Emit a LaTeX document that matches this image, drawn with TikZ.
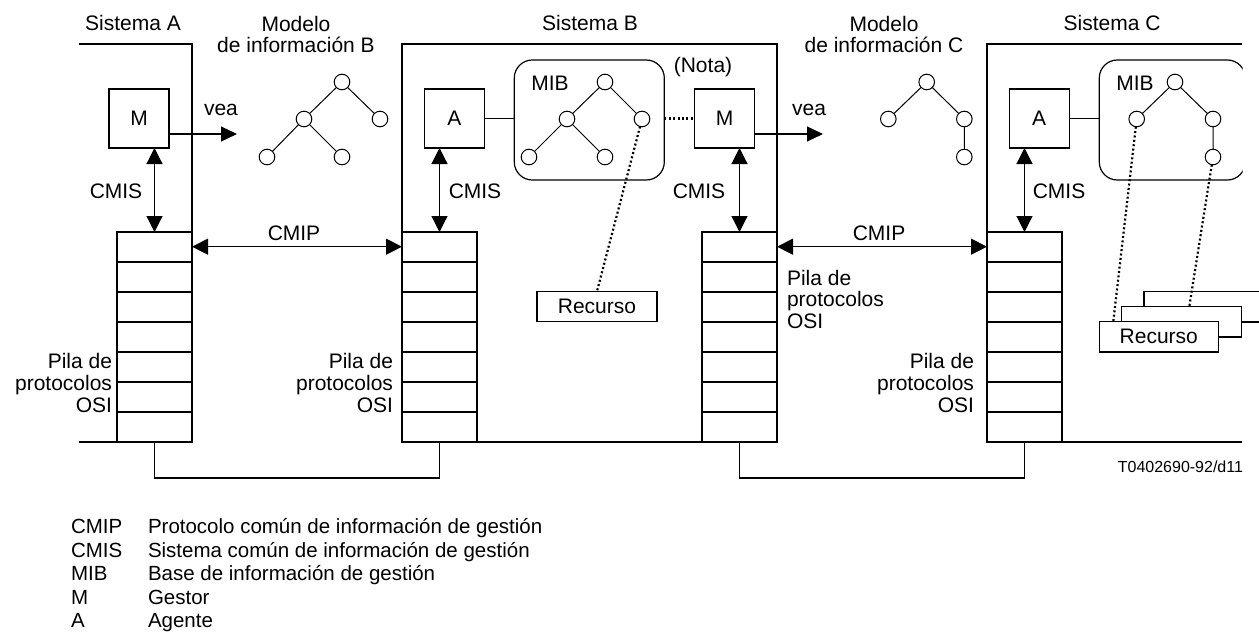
\documentclass[tikz,border=0pt]{standalone}
\usepackage{fontspec}
\setmainfont{Liberation Sans}
\usetikzlibrary{arrows.meta}
\begin{document}
\begin{tikzpicture}[x=1pt,y=-1pt,
  every node/.style={inner sep=0pt, outer sep=0pt},
  lw/.style={line width=1.2pt},
  box/.style={draw, line width=1.2pt, fill=white, minimum width=60pt, minimum height=59pt, font=\fontsize{21}{22}\selectfont},
  stackbox/.style={draw, line width=1.2pt, minimum width=75pt, minimum height=210pt},
  mibbox/.style={draw, line width=1.2pt, rounded corners=18pt, minimum height=120pt},
  obj/.style={draw, circle, line width=1pt, minimum size=15.6pt, fill=white},
  treeedge/.style={line width=1pt},
  dotline/.style={line width=2.2pt, dash pattern=on 2pt off 2.4pt},
  txt/.style={font=\fontsize{21}{22}\selectfont, anchor=base},
  txtr/.style={font=\fontsize{21}{22}\selectfont, anchor=base east},
  txtl/.style={font=\fontsize{21}{22}\selectfont, anchor=base west},
  legtxt/.style={font=\fontsize{20.5}{22}\selectfont, anchor=base west},
  recbox/.style={draw, line width=1.2pt, fill=white, minimum width=120pt, minimum height=30.5pt, font=\fontsize{21}{22}\selectfont},
  arr/.style={line width=1.2pt, -{Triangle[length=16pt,width=15pt]}},
  darr/.style={line width=1.2pt, {Triangle[length=16pt,width=16pt]}-{Triangle[length=16pt,width=16pt]}}
]
\useasboundingbox (0,0) rectangle (1259,640);
\begin{scope}
\clip (0,0) rectangle (1259,640);

% ---------- frames ----------
\draw[lw] (79,44) -- (192,44) -- (192,442);
\draw[lw] (79,442) -- (192,442);
\draw[lw] (402,44) rectangle (777,442);
\draw[lw] (1242,44) -- (987,44) -- (987,442) -- (1242,442);

% ---------- titles ----------
\node[txt] (tA) at (133,30) {Sistema A};
\node[txt] (tB) at (590,30) {Sistema B};
\node[txt] (tC) at (1112,30) {Sistema C};
\node[txt] (mB1) at (296,31) {Modelo};
\node[txt] (mB2) at (296,52) {de información B};
\node[txt] (mC1) at (884,31) {Modelo};
\node[txt] (mC2) at (884,52) {de información C};

% ---------- stacks ----------
\foreach \n/\x in {stA/154.5, stB/439.5, stBb/739.5, stC/1024.5}{
  \node[stackbox] (\n) at (\x,337) {};
  \foreach \k in {1,...,6}{
    \draw[lw] ([yshift={-30*\k}]\n.north west) -- ([yshift={-30*\k}]\n.north east);
  }
}

% ---------- boxes ----------
\node[box] (MA) at (139,118.5) {M};
\node[box] (AB) at (454.3,118.5) {A};
\node[box] (MB) at (724.5,118.5) {M};
\node[box] (AC) at (1039.2,118.5) {A};

% ---------- MIB B ----------
\node[mibbox, minimum width=150pt] (mibB) at (589.3,120) {};
\node[txt] (mibBl) at (550,90) {MIB};
\node[txt] (nota) at (703,72) {(Nota)};

% ---------- MIB C (clipped at right) ----------
\begin{scope}
\clip (0,0) rectangle (1242.5,640);
\node[mibbox, minimum width=146pt] (mibC) at (1172.3,120) {};
\end{scope}
\node[txt] (mibCl) at (1135,90) {MIB};

% ---------- trees ----------
% Modelo B
\node[obj] (b1) at (342,82) {};
\node[obj] (b2) at (304,119) {};
\node[obj] (b3) at (380,119) {};
\node[obj] (b4) at (267,157) {};
\node[obj] (b5) at (342,157) {};
\draw[treeedge] (b1) -- (b2) (b1) -- (b3) (b2) -- (b4) (b2) -- (b5);
% MIB B
\node[obj] (m1) at (605,82) {};
\node[obj] (m2) at (567,119) {};
\node[obj] (m3) at (642,119) {};
\node[obj] (m4) at (529,157) {};
\node[obj] (m5) at (605,157) {};
\draw[treeedge] (m1) -- (m2) (m1) -- (m3) (m2) -- (m4) (m2) -- (m5);
% Modelo C
\node[obj] (c1) at (926.7,82) {};
\node[obj] (c2) at (888.3,119) {};
\node[obj] (c3) at (964.3,119) {};
\node[obj] (c4) at (964.3,157) {};
\draw[treeedge] (c1) -- (c2) (c1) -- (c3) (c3) -- (c4);
% MIB C
\node[obj] (d1) at (1175,82) {};
\node[obj] (d2) at (1136.7,119) {};
\node[obj] (d3) at (1213,119) {};
\node[obj] (d4) at (1213,157) {};
\draw[treeedge] (d1) -- (d2) (d1) -- (d3) (d3) -- (d4);

% ---------- box to MIB links ----------
\draw[lw] (AB.east) -- (AB.east -| mibB.west);
\draw[dotline] (MB.west -| mibB.east) -- (MB.west);
\draw[lw] (AC.east) -- (AC.east -| mibC.west);

% ---------- vea arrows ----------
\coordinate (veaA) at (237,134);
\coordinate (veaB) at (823,134);
\draw[arr] (MA.east |- veaA) -- (veaA);
\draw[arr] (MB.east |- veaB) -- (veaB);
\node[txt] (veaAl) at (221,115) {vea};
\node[txt] (veaBl) at (809,115) {vea};

% ---------- CMIS arrows ----------
\draw[darr] (stA.north |- MA.south) -- (stA.north);
\draw[darr] (stB.north |- AB.south) -- (stB.north);
\draw[darr] (stBb.north |- MB.south) -- (stBb.north);
\draw[darr] (stC.north |- AC.south) -- (stC.north);
\node[txt] (cmis1) at (116,198) {CMIS};
\node[txt] (cmis2) at (475,198) {CMIS};
\node[txt] (cmis3) at (699,198) {CMIS};
\node[txt] (cmis4) at (1059,198) {CMIS};

% ---------- CMIP arrows ----------
\draw[darr] ([yshift=-14.7pt]stA.north east) -- ([yshift=-14.7pt]stB.north west);
\draw[darr] ([yshift=-14.7pt]stBb.north east) -- ([yshift=-14.7pt]stC.north west);
\node[txt] (cmip1) at (294,240) {CMIP};
\node[txt] (cmip2) at (879,240) {CMIP};

% ---------- bottom links ----------
\draw[lw] (stA.south) -- ++(0,36) -| (stB.south);
\draw[lw] (stBb.south) -- ++(0,36) -| (stC.south);

% ---------- Pila labels ----------
\node[txtr] (pa1) at (112,368) {Pila de};
\node[txtr] (pa2) at (112,390) {protocolos};
\node[txtr] (pa3) at (112,412) {OSI};
\node[txtr] (pb1) at (393,368) {Pila de};
\node[txtr] (pb2) at (393,390) {protocolos};
\node[txtr] (pb3) at (393,412) {OSI};
\node[txtl] (pc1) at (787,285) {Pila de};
\node[txtl] (pc2) at (787,306.5) {protocolos};
\node[txtl] (pc3) at (787,328) {OSI};
\node[txtr] (pd1) at (974,368) {Pila de};
\node[txtr] (pd2) at (974,390) {protocolos};
\node[txtr] (pd3) at (974,412) {OSI};

% ---------- Recursos ----------
\node[recbox] (recB) at (597,306.5) {Recurso};
\node[recbox] (rc3) at (1204,306.7) {};
\node[recbox] (rc2) at (1181.7,321.7) {};
\node[recbox, minimum width=119pt] (rc1) at (1158.8,336.7) {Recurso};
\draw[dotline] (m3) -- (recB.north);
\draw[dotline] (d2) -- ([xshift=14pt]rc1.north west);
\draw[dotline] (d4) -- ([xshift=7.6pt]rc2.north);

% ---------- reference ----------
\node[font=\fontsize{16}{18}\selectfont, anchor=base east] (ref) at (1243,472) {T0402690-92/d11};

% ---------- legend ----------
\node[legtxt] (l1a) at (71,533) {CMIP};
\node[legtxt] (l1b) at (148,533) {Protocolo común de información de gestión};
\node[legtxt] (l2a) at (71,557) {CMIS};
\node[legtxt] (l2b) at (148,557) {Sistema común de información de gestión};
\node[legtxt] (l3a) at (71,580) {MIB};
\node[legtxt] (l3b) at (148,580) {Base de información de gestión};
\node[legtxt] (l4a) at (71,604) {M};
\node[legtxt] (l4b) at (148,604) {Gestor};
\node[legtxt] (l5a) at (71,627) {A};
\node[legtxt] (l5b) at (148,627) {Agente};
\end{scope}
\end{tikzpicture}
\end{document}
